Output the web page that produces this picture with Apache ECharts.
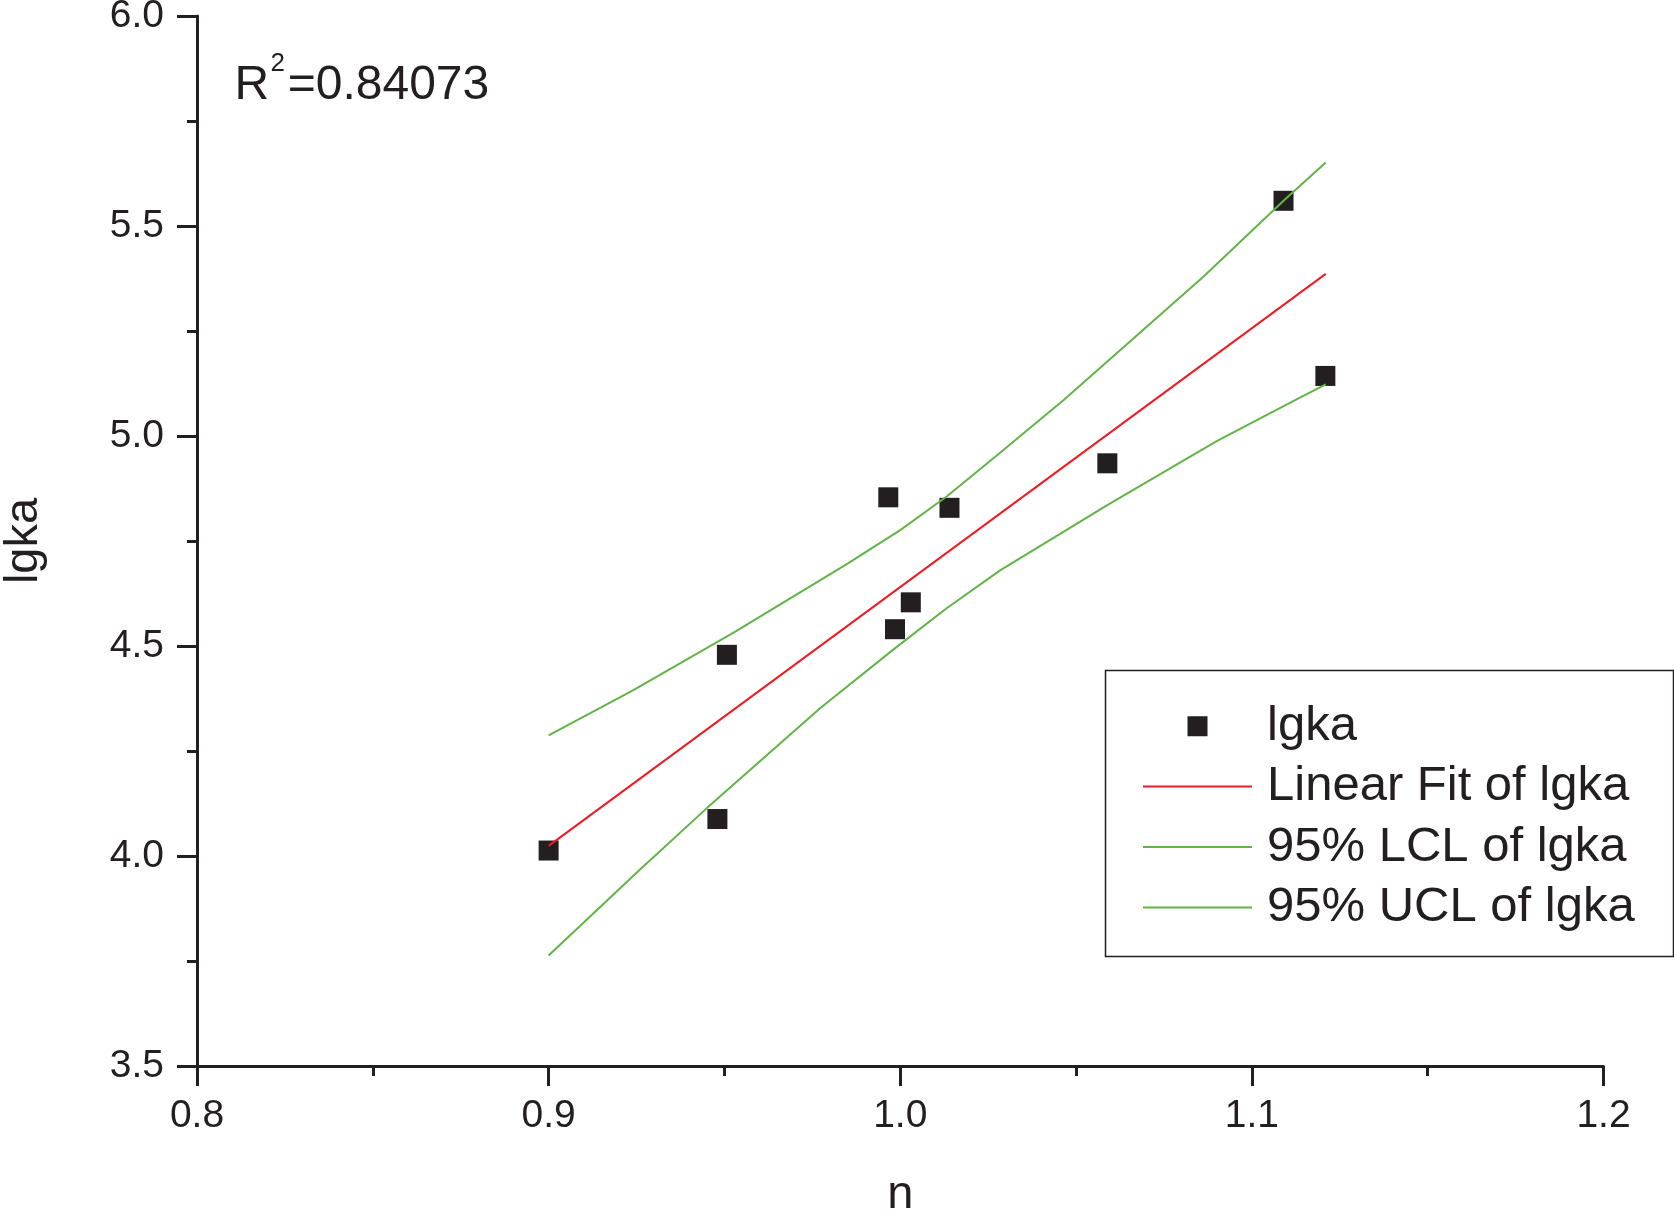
<!DOCTYPE html>
<html><head><meta charset="utf-8">
<script src="https://cdn.jsdelivr.net/npm/echarts@6/dist/echarts.min.js"></script>
<style>html,body{margin:0;padding:0;background:#fff}#c{width:1674px;height:1210px}</style>
</head><body><div id="c"></div>
<script>
// ---- data ----
const xTickLabels = ['0.8', '0.9', '1.0', '1.1', '1.2'];
const yTickLabels = ['3.5', '4.0', '4.5', '5.0', '5.5', '6.0'];

const nValues    = [0.900, 0.948, 0.9507, 0.9966, 1.014, 1.003, 0.9985, 1.0589, 1.109, 1.1209];
const lgkaValues = [4.013, 4.088, 4.479, 4.854, 4.829, 4.604, 4.540, 4.935, 5.560, 5.143];

const fitN    = [0.900, 1.121];
const fitLgka = [4.024, 5.386];

const lclN    = [0.900, 0.926, 0.945, 0.9772, 0.9981, 1.0132, 1.0284, 1.059, 1.090, 1.1127, 1.121];
const lclLgka = [3.763, 3.968, 4.114, 4.352, 4.492, 4.590, 4.680, 4.836, 4.988, 5.087, 5.123];

const uclN    = [0.900, 0.9241, 0.9526, 0.9848, 1.000, 1.0132, 1.0284, 1.0464, 1.0862, 1.109, 1.121];
const uclLgka = [4.287, 4.395, 4.532, 4.695, 4.776, 4.856, 4.960, 5.085, 5.379, 5.560, 5.651];

const seriesNames = ['lgka', 'Linear Fit of lgka', '95% LCL of lgka', '95% UCL of lgka'];
const r2Text = '0.84073';

// ---- chart ----
const INK = '#231f20', RED = '#ed1c24', GREEN = '#62b447';
const FONT = '"Liberation Sans", Arial, Helvetica, sans-serif';
const zip = (a, b) => a.map((v, i) => [v, b[i]]);
// legend icons: square marker centred in a 109x20 box, and a plain 2px line
const SQUARE_ICON = 'path://M0,0h0.01v0.01h-0.01z M44.5,0h20v20h-20z M108.99,19.99h0.01v0.01h-0.01z';
const LINE_ICON = 'path://M0,0h109v2h-109z';

const chart = echarts.init(document.getElementById('c'), null, {renderer: 'canvas'});
chart.setOption({
  animation: false,
  backgroundColor: '#fff',
  grid: {left: 197, right: 70.5, top: 16, bottom: 144, containLabel: false, outerBoundsMode: 'none'},
  xAxis: {
    type: 'value', min: 0.8, max: 1.2, interval: 0.1,
    name: 'n', nameLocation: 'middle', nameGap: 106,
    nameTextStyle: {fontFamily: FONT, fontSize: 47, color: INK},
    axisLine: {show: true, onZero: false, lineStyle: {color: INK, width: 3}},
    axisTick: {show: true, inside: false, length: 20, lineStyle: {color: INK, width: 3}},
    minorTick: {show: true, splitNumber: 2, length: 10, lineStyle: {color: INK, width: 3}},
    splitLine: {show: false}, minorSplitLine: {show: false},
    axisLabel: {
      fontFamily: FONT, fontSize: 39, color: INK, margin: 31,
      formatter: v => xTickLabels[Math.round((v - 0.8) / 0.1)]
    }
  },
  yAxis: {
    type: 'value', min: 3.5, max: 6.0, interval: 0.5,
    name: 'lgka', nameLocation: 'middle', nameGap: 149,
    nameTextStyle: {fontFamily: FONT, fontSize: 47, color: INK},
    axisLine: {show: true, onZero: false, lineStyle: {color: INK, width: 3}},
    axisTick: {show: true, inside: false, length: 20, lineStyle: {color: INK, width: 3}},
    minorTick: {show: true, splitNumber: 2, length: 10, lineStyle: {color: INK, width: 3}},
    splitLine: {show: false}, minorSplitLine: {show: false},
    axisLabel: {
      fontFamily: FONT, fontSize: 39, color: INK, margin: 33,
      formatter: v => yTickLabels[Math.round((v - 3.5) / 0.5)]
    }
  },
  legend: {
    orient: 'vertical', left: 1143, top: 701.7, padding: 0,
    itemWidth: 109, itemHeight: 20, itemGap: 11.4,
    symbolKeepAspect: true,
    data: [
      {name: seriesNames[0], icon: SQUARE_ICON},
      {name: seriesNames[1], icon: LINE_ICON},
      {name: seriesNames[2], icon: LINE_ICON},
      {name: seriesNames[3], icon: LINE_ICON}
    ],
    textStyle: {fontFamily: FONT, fontSize: 49, lineHeight: 48, color: INK, padding: [0, 0, 0, 10]},
    selectedMode: false
  },
  graphic: [
    {type: 'rect', left: 1103, top: 668, z: 100,
     shape: {x: 0, y: 0, width: 568, height: 286},
     style: {fill: 'none', stroke: INK, lineWidth: 1.5}},
    {type: 'text', x: 234.6, y: 85.4, z: 100,
     style: {text: 'R', font: '48px ' + FONT, fill: INK, verticalAlign: 'middle', align: 'left'}},
    {type: 'text', x: 270.5, y: 64.3, z: 100,
     style: {text: '2', font: '26px ' + FONT, fill: INK, verticalAlign: 'middle', align: 'left'}},
    {type: 'text', x: 287.7, y: 85.4, z: 100,
     style: {text: '=' + r2Text, font: '48px ' + FONT, fill: INK, verticalAlign: 'middle', align: 'left'}}
  ],
  series: [
    {name: seriesNames[0], type: 'scatter', z: 2, symbol: 'rect', symbolSize: 20,
     itemStyle: {color: INK, opacity: 1}, data: zip(nValues, lgkaValues), silent: true},
    {name: seriesNames[1], type: 'line', z: 3, symbol: 'none', showSymbol: false,
     lineStyle: {color: RED, width: 2}, itemStyle: {color: RED},
     data: zip(fitN, fitLgka), silent: true},
    {name: seriesNames[2], type: 'line', z: 3, symbol: 'none', showSymbol: false, smooth: false,
     lineStyle: {color: GREEN, width: 2}, itemStyle: {color: GREEN},
     data: zip(lclN, lclLgka), silent: true},
    {name: seriesNames[3], type: 'line', z: 3, symbol: 'none', showSymbol: false, smooth: false,
     lineStyle: {color: GREEN, width: 2}, itemStyle: {color: GREEN},
     data: zip(uclN, uclLgka), silent: true}
  ]
});
</script></body></html>
